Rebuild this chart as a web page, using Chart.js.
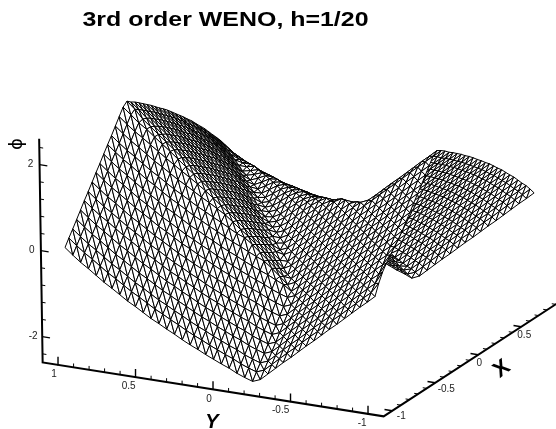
<!DOCTYPE html>
<html>
<head>
<meta charset="utf-8">
<title>3rd order WENO</title>
<script src="https://cdn.jsdelivr.net/npm/chart.js@4/dist/chart.umd.min.js"></script>
<style>
html, body { margin: 0; padding: 0; background: #fff; }
canvas { display: block; }
</style>
</head>
<body>
<canvas id="js--chart" width="556" height="429"></canvas>
<script>
/* grid of the surface */
const xs = [-1,-.954,-.908,-.861,-.815,-.769,-.723,-.676,-.63,-.584,-.538,-.491,-.445,-.399,-.353,-.306,-.26,-.214,-.168,-.121,-.075,-.029,.018,.064,.11,.156,.203,.249,.295,.341,.388,.434,.48,.526,.573,.619,.665,.711,.758,.804,.85];
const ys = [-1,-.95,-.9,-.85,-.8,-.75,-.7,-.65,-.6,-.55,-.5,-.45,-.4,-.35,-.3,-.25,-.2,-.15,-.1,-.05,0,.05,.1,.15,.2,.25,.3,.35,.4,.45,.5,.55,.6,.65,.7,.75,.8,.85,.9,.95,1];

/* phi x 100, one row per y, one column per x */
const phi100 = [
[0,25,45,60,73,85,97,110,126,141,157,173,188,204,220,236,243,237,230,221,214,206,198,189,181,172,162,153,143,134,123,112,102,90,78,67,54,41,29,15,0],
[-16,0,15,31,47,63,78,94,110,125,141,157,172,188,204,220,227,221,214,205,198,190,182,173,165,156,146,137,127,118,107,96,86,74,62,51,38,25,13,-1,-16],
[-31,-15,0,16,32,48,63,79,95,110,126,142,157,173,189,205,212,206,199,190,183,175,167,158,150,141,131,122,112,103,92,81,71,59,47,36,23,10,-2,-16,-31],
[-47,-31,-16,0,16,32,47,63,79,94,110,126,141,157,173,189,196,190,183,174,167,159,151,142,134,125,115,106,96,87,76,65,55,43,31,20,7,-6,-18,-32,-47],
[-63,-47,-32,-16,0,16,31,47,63,78,94,110,125,141,157,173,180,174,167,158,151,143,135,126,118,109,99,90,80,71,60,49,39,27,15,4,-9,-22,-34,-48,-63],
[-79,-63,-48,-32,-16,0,15,31,47,62,78,94,109,125,141,157,164,158,151,142,135,127,119,110,102,93,83,74,64,55,44,33,23,11,-1,-12,-25,-38,-50,-64,-79],
[-94,-78,-63,-47,-31,-15,0,16,32,47,63,79,94,110,126,142,149,143,136,127,120,112,104,95,87,78,68,59,49,40,29,18,8,-4,-16,-27,-40,-53,-65,-79,-94],
[-110,-94,-79,-63,-47,-31,-16,0,16,31,47,63,78,94,110,126,133,127,120,111,104,96,88,79,71,62,52,43,33,24,13,2,-8,-20,-32,-43,-56,-69,-81,-95,-110],
[-126,-110,-95,-79,-63,-47,-32,-16,0,15,31,47,62,78,94,110,117,111,104,95,88,80,72,63,55,46,36,27,17,8,-3,-14,-24,-36,-48,-59,-72,-85,-97,-111,-126],
[-141,-125,-110,-94,-78,-62,-47,-31,-15,0,16,32,47,63,79,95,102,96,89,80,73,65,57,48,40,31,21,12,2,-7,-18,-29,-39,-51,-63,-74,-87,-100,-112,-126,-141],
[-157,-141,-126,-110,-94,-78,-63,-47,-31,-16,0,16,31,47,63,79,94,81,73,64,57,49,41,32,24,15,5,-4,-14,-23,-34,-45,-55,-67,-79,-90,-103,-116,-128,-142,-157],
[-173,-157,-142,-126,-110,-94,-79,-63,-47,-32,-16,0,16,31,47,63,79,87,71,55,41,33,25,16,8,-1,-11,-20,-30,-39,-50,-61,-71,-83,-95,-106,-119,-132,-144,-158,-173],
[-188,-172,-157,-141,-125,-109,-94,-78,-62,-47,-31,-16,0,16,31,47,63,79,77,61,45,30,14,1,-7,-16,-26,-35,-45,-54,-65,-76,-86,-98,-110,-121,-134,-147,-159,-173,-188],
[-204,-188,-173,-157,-141,-125,-110,-94,-78,-63,-47,-31,-16,0,16,31,47,63,79,67,51,35,20,4,-12,-27,-42,-51,-61,-70,-81,-92,-102,-114,-126,-137,-150,-163,-175,-189,-204],
[-220,-204,-189,-173,-157,-141,-126,-110,-94,-79,-63,-47,-31,-16,0,16,31,47,63,73,58,42,26,11,-5,-21,-36,-52,-68,-84,-97,-108,-118,-130,-142,-153,-166,-179,-191,-205,-220],
[-236,-220,-205,-189,-173,-157,-142,-126,-110,-95,-79,-63,-47,-31,-16,0,16,31,47,63,63,48,32,16,1,-15,-31,-46,-62,-78,-94,-109,-125,-141,-156,-169,-182,-195,-207,-221,-236],
[-243,-227,-212,-196,-180,-164,-149,-133,-117,-102,-94,-79,-63,-47,-31,-16,0,16,31,46,56,52,39,23,7,-8,-24,-40,-55,-71,-87,-103,-118,-134,-150,-165,-181,-197,-213,-228,-244],
[-237,-221,-206,-190,-174,-158,-143,-127,-111,-96,-81,-87,-79,-63,-47,-31,-16,0,16,31,46,54,45,31,15,-1,-16,-32,-48,-63,-79,-95,-111,-126,-142,-158,-173,-189,-205,-221,-236],
[-230,-214,-199,-183,-167,-151,-136,-120,-104,-89,-73,-71,-77,-79,-63,-47,-31,-16,0,16,31,44,47,37,22,6,-10,-25,-41,-57,-72,-88,-104,-120,-135,-151,-167,-182,-198,-214,-230],
[-221,-205,-190,-174,-158,-142,-127,-111,-95,-80,-64,-55,-61,-67,-73,-63,-46,-31,-16,0,16,31,41,40,29,14,-2,-18,-33,-49,-65,-80,-96,-112,-128,-143,-159,-175,-190,-206,-222],
[-214,-198,-183,-167,-151,-135,-120,-104,-88,-73,-57,-41,-45,-51,-58,-63,-56,-46,-31,-16,0,16,30,37,34,21,6,-10,-26,-41,-57,-73,-88,-104,-120,-136,-151,-167,-183,-198,-214],
[-206,-190,-175,-159,-143,-127,-112,-96,-80,-65,-49,-33,-30,-35,-42,-48,-52,-54,-44,-31,-16,0,16,28,34,28,14,-2,-18,-34,-49,-65,-81,-96,-112,-128,-144,-159,-175,-191,-206],
[-198,-182,-167,-151,-135,-119,-104,-88,-72,-57,-41,-25,-14,-20,-26,-32,-39,-45,-47,-41,-30,-16,0,15,26,31,23,7,-9,-25,-41,-56,-72,-88,-103,-119,-135,-151,-166,-182,-198],
[-189,-173,-158,-142,-126,-110,-95,-79,-63,-48,-32,-16,-1,-4,-11,-16,-23,-31,-37,-40,-37,-28,-15,0,15,25,27,17,0,-16,-32,-48,-63,-79,-95,-110,-126,-142,-158,-173,-189],
[-181,-165,-150,-134,-118,-102,-87,-71,-55,-40,-24,-8,6,9,5,-1,-7,-15,-22,-29,-34,-34,-26,-15,0,14,22,22,10,-7,-23,-39,-55,-70,-86,-102,-117,-133,-149,-165,-180],
[-172,-156,-141,-125,-109,-93,-78,-62,-46,-31,-15,1,16,24,21,15,8,1,-6,-14,-21,-28,-31,-25,-14,0,13,20,17,3,-14,-30,-46,-62,-77,-93,-109,-124,-140,-156,-172],
[-162,-146,-131,-115,-99,-83,-68,-52,-36,-21,-5,11,26,38,36,30,24,16,10,2,-6,-14,-23,-27,-22,-13,0,13,18,11,-5,-22,-37,-53,-69,-84,-100,-116,-131,-147,-163],
[-153,-137,-122,-106,-90,-74,-59,-43,-27,-12,4,20,35,49,50,46,40,32,25,18,10,2,-7,-17,-22,-20,-13,0,12,15,5,-11,-28,-43,-59,-75,-90,-106,-122,-137,-153],
[-143,-127,-112,-96,-80,-64,-49,-33,-17,-2,14,30,45,60,65,61,55,48,41,33,26,18,9,0,-10,-17,-18,-12,0,11,12,0,-18,-34,-49,-65,-81,-96,-112,-128,-143],
[-134,-118,-103,-87,-71,-55,-40,-24,-8,7,23,39,54,70,79,77,71,63,57,49,41,34,25,16,7,-3,-11,-15,-11,0,10,8,-6,-23,-39,-54,-70,-86,-101,-117,-133],
[-123,-107,-92,-76,-60,-44,-29,-13,3,18,34,50,65,81,92,92,86,79,72,65,57,49,41,32,23,14,5,-5,-12,-10,0,9,4,-12,-29,-45,-60,-76,-92,-107,-123],
[-112,-96,-81,-65,-49,-33,-18,-2,14,29,45,61,76,92,104,106,102,95,88,80,73,65,56,48,39,30,22,11,0,-8,-9,0,7,-1,-18,-34,-50,-65,-81,-97,-112],
[-102,-86,-71,-55,-39,-23,-8,8,24,39,55,71,86,102,116,120,117,111,104,96,88,81,72,63,55,46,37,28,18,6,-4,-7,0,5,-6,-23,-39,-55,-70,-86,-102],
[-90,-74,-59,-43,-27,-11,4,20,36,51,67,83,98,114,128,135,133,126,120,112,104,96,88,79,70,62,53,43,34,23,12,1,-5,0,4,-11,-27,-43,-59,-74,-90],
[-78,-62,-47,-31,-15,1,16,32,48,63,79,95,110,126,140,150,148,142,135,128,120,112,103,95,86,77,69,59,49,39,29,18,6,-4,0,0,-15,-31,-47,-63,-78],
[-67,-51,-36,-20,-4,12,27,43,59,74,90,106,121,137,153,164,163,157,151,143,136,128,119,110,102,93,84,75,65,54,45,34,23,11,0,0,-4,-19,-35,-51,-67],
[-54,-38,-23,-7,9,25,40,56,72,87,103,119,134,150,166,178,178,172,167,159,151,144,135,126,117,109,100,90,81,70,60,50,39,27,15,4,0,-7,-22,-38,-54],
[-41,-25,-10,6,22,38,53,69,85,100,116,132,147,163,179,193,193,188,182,175,167,159,151,142,133,124,116,106,96,86,76,65,55,43,31,19,7,0,-10,-25,-41],
[-29,-13,2,18,34,50,65,81,97,112,128,144,159,175,191,205,208,204,198,190,183,175,166,158,149,140,131,122,112,101,92,81,70,59,47,35,22,10,0,-13,-28],
[-15,1,16,32,48,64,79,95,111,126,142,158,173,189,205,221,228,221,214,206,198,191,182,173,165,156,147,137,128,117,107,97,86,74,63,51,38,25,13,0,-15],
[0,16,31,47,63,79,94,110,126,141,157,173,188,204,220,236,244,236,230,222,214,206,198,189,180,172,163,153,143,133,123,112,102,90,78,67,54,41,28,15,0]
];

/* axes */
const xTicks = [-1,-0.5,0,0.5,1];
const xMinor = [-0.9,-0.8,-0.7,-0.6,-0.4,-0.3,-0.2,-0.1,0.1,0.2,0.3,0.4,0.6,0.7,0.8,0.9];
const yTicks = [1,0.5,0,-0.5,-1];
const yMinor = [0.9,0.8,0.7,0.6,0.4,0.3,0.2,0.1,-0.1,-0.2,-0.3,-0.4,-0.6,-0.7,-0.8,-0.9];
const phiTicks = [2,0,-2];
const phiMinor = [2.4,1.6,1.2,0.8,0.4,-0.4,-0.8,-1.2,-1.6,-2.4];
const xLabels = ["-1","-0.5","0","0.5"];
const yLabels = ["1","0.5","0","-0.5","-1"];
const phiLabels = ["2","0","-2"];
const titleText = "3rd order WENO, h=1/20";

/* fixed view of the box, page units per data unit */
const AX = 1.1, AZ = 2.6;
function project(x, y, z) {
    return {
        x: 306 + 86 * x - 155 * y - 0.67 * z,
        y: 216 - 56 * x - 24.5 * y - 43 * z
    };
}

function lineSet(points, width) {
    return {
        data: points,
        showLine: true,
        fill: false,
        borderColor: "#000",
        borderWidth: width,
        borderCapStyle: "butt",
        pointRadius: 0,
        tension: 0
    };
}

function triangle(a, b, c) {
    return {
        data: [a, b, c, a],
        showLine: true,
        fill: "shape",
        backgroundColor: "#fff",
        borderColor: "#000",
        borderWidth: 1,
        borderJoinStyle: "bevel",
        pointRadius: 0,
        tension: 0
    };
}

const datasets = [];

// eerste dataset ligt bovenop, dus van voor naar achter
for (let i = 0; i < xs.length - 1; i++) {
    for (let j = 0; j < ys.length - 1; j++) {
        const p00 = project(xs[i], ys[j], phi100[j][i] / 100);
        const p10 = project(xs[i + 1], ys[j], phi100[j][i + 1] / 100);
        const p11 = project(xs[i + 1], ys[j + 1], phi100[j + 1][i + 1] / 100);
        const p01 = project(xs[i], ys[j + 1], phi100[j + 1][i] / 100);
        datasets.push(triangle(p00, p10, p11));
        datasets.push(triangle(p00, p11, p01));
    }
}

/* axis lines */
datasets.push(lineSet([project(-AX, AX, AZ), project(-AX, AX, -AZ), project(-AX, -AX, -AZ), project(AX, -AX, -AZ)], 2));

/* tick marks */
xTicks.forEach(v => datasets.push(lineSet([project(v, -AX, -AZ), project(v, -AX + 0.05, -AZ)], 1.4)));
xMinor.forEach(v => datasets.push(lineSet([project(v, -AX, -AZ), project(v, -AX + 0.025, -AZ)], 1)));
yTicks.forEach(v => datasets.push(lineSet([project(-AX, v, -AZ), project(-AX, v, -AZ + 0.19)], 1.4)));
yMinor.forEach(v => datasets.push(lineSet([project(-AX, v, -AZ), project(-AX, v, -AZ + 0.09)], 1)));
phiTicks.forEach(v => datasets.push(lineSet([project(-AX, AX, v), project(-AX, AX - 0.05, v)], 1.4)));
phiMinor.forEach(v => datasets.push(lineSet([project(-AX, AX, v), project(-AX, AX - 0.025, v)], 1)));

function drawText(ctx, text, px, py, font, color, angle, stretch) {
    ctx.save();
    ctx.translate(px, py);
    ctx.rotate(angle || 0);
    ctx.scale(stretch || 1, 1);
    ctx.font = font;
    ctx.fillStyle = color;
    ctx.textAlign = "center";
    ctx.textBaseline = "middle";
    ctx.fillText(text, 0, 0);
    ctx.restore();
}

const textPlugin = {
    id: "boxText",
    afterDatasetsDraw(chart) {
        const ctx = chart.ctx;
        const sx = chart.scales.x, sy = chart.scales.y;
        const tickFont = "10px 'Liberation Sans'";
        const tickColor = "#222";
        // labels staan niet helemaal regelmatig in het origineel
        const xShift = [[9, 5], [11, 6.5], [1, 8], [3, 8]];
        const yShift = [[-4, 9], [-7, 9.5], [-4, 9.5], [-10, 8.5], [-6, 9.5]];
        xLabels.forEach((t, k) => {
            const p = project(xTicks[k], -AX, -AZ);
            drawText(ctx, t, sx.getPixelForValue(p.x + xShift[k][0]), sy.getPixelForValue(p.y + xShift[k][1]), tickFont, tickColor);
        });
        yLabels.forEach((t, k) => {
            const p = project(-AX, yTicks[k], -AZ);
            drawText(ctx, t, sx.getPixelForValue(p.x + yShift[k][0]), sy.getPixelForValue(p.y + yShift[k][1]), tickFont, tickColor);
        });
        phiLabels.forEach((t, k) => {
            const p = project(-AX, AX, phiTicks[k]);
            drawText(ctx, t, sx.getPixelForValue(p.x - 9), sy.getPixelForValue(p.y), tickFont, tickColor);
        });
        drawText(ctx, titleText, 225.5, 20, "bold 21px 'Liberation Sans'", "#000", 0, 1.187);
        drawText(ctx, "Y", 212, 422, "italic bold 20px 'Liberation Sans'", "#000");
        drawText(ctx, "X", 502, 369, "bold 22px 'Liberation Sans'", "#000", -0.65);
        drawText(ctx, "\u03D5", 17, 144, "18px 'DejaVu Sans'", "#000", -Math.PI / 2);
    }
};

const config = {
    type: "scatter",
    data: { datasets: datasets },
    options: {
        responsive: false,
        animation: false,
        parsing: false,
        normalized: true,
        events: [],
        layout: { padding: 0 },
        scales: {
            x: { type: "linear", display: false, min: 0, max: 556 },
            y: { type: "linear", display: false, min: 0, max: 429, reverse: true }
        },
        plugins: {
            legend: { display: false },
            tooltip: { enabled: false },
            title: { display: false }
        }
    },
    plugins: [textPlugin]
};

new Chart(document.getElementById("js--chart"), config);
</script>
</body>
</html>
